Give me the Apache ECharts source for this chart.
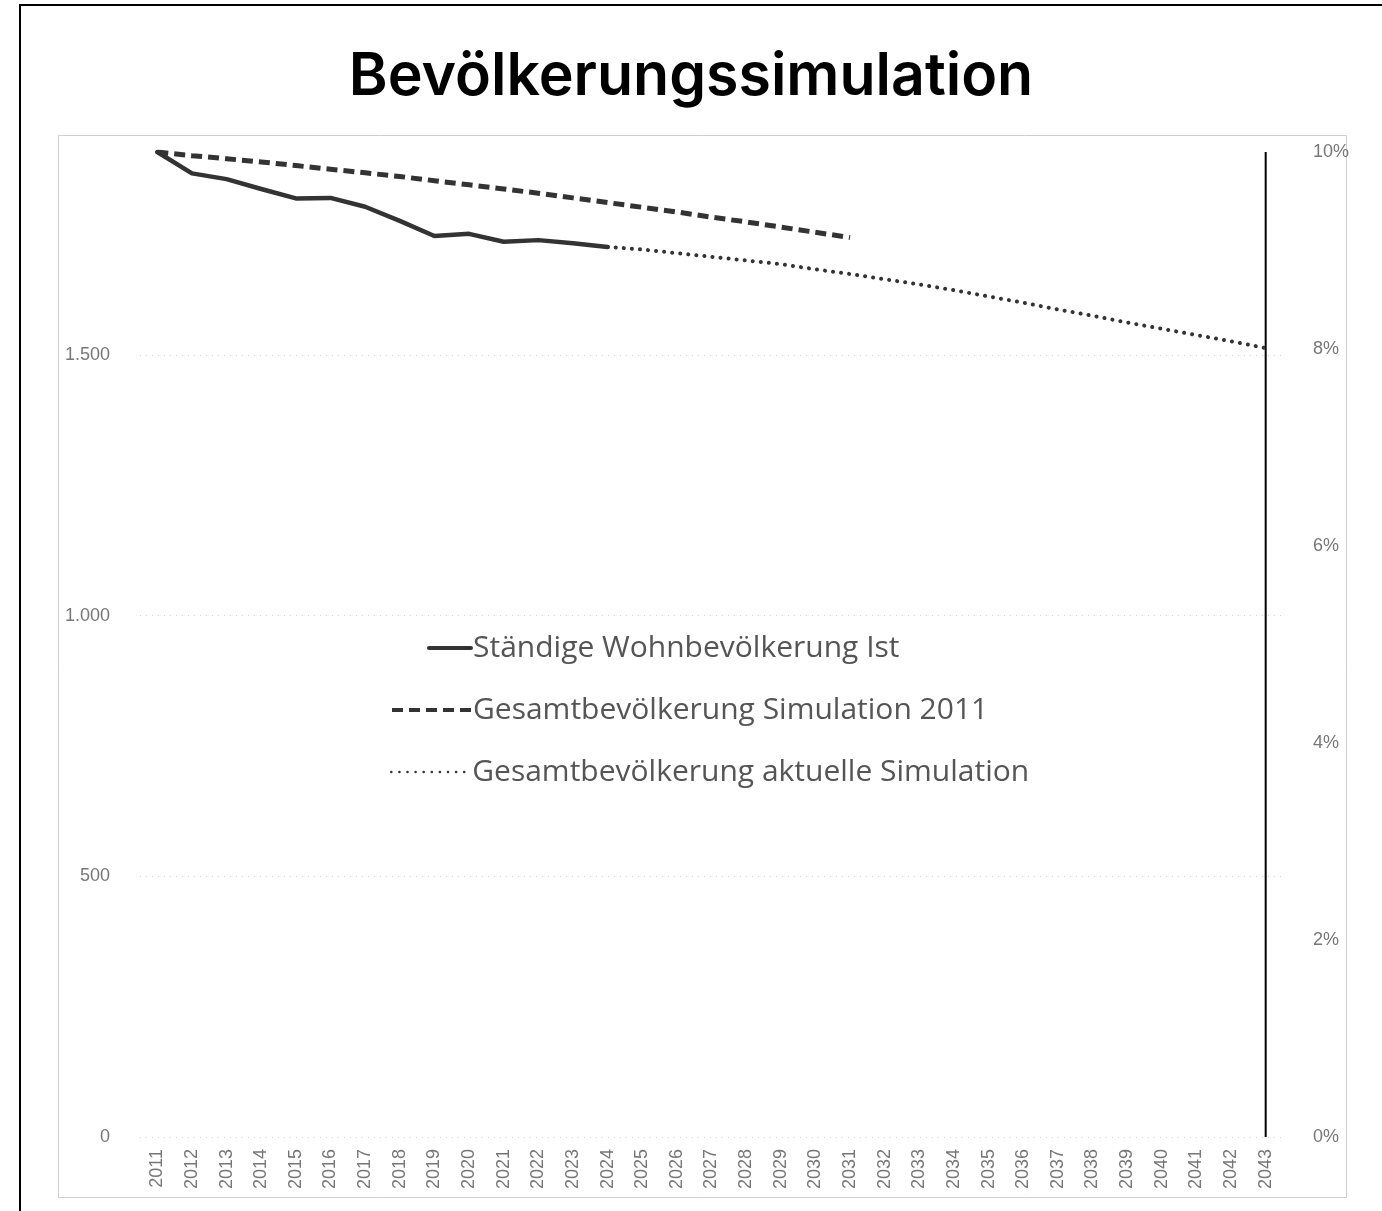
<!DOCTYPE html>
<html>
<head>
<meta charset="utf-8">
<script src="https://cdn.jsdelivr.net/npm/echarts@6/dist/echarts.min.js"></script>
<style>
html,body{margin:0;padding:0;background:#fff;}
#chart{width:1382px;height:1211px;}
</style>
</head>
<body>
<div id="chart"></div>
<script>
const years = ['2011','2012','2013','2014','2015','2016','2017','2018','2019','2020','2021','2022','2023','2024','2025','2026','2027','2028','2029','2030','2031','2032','2033','2034','2035','2036','2037','2038','2039','2040','2041','2042','2043'];
const istValues = [1889,1848,1837,1818,1800,1801,1784,1757,1728,1732,1717,1720,1714,1707];
const sim2011Values = [1889,1882,1876,1870,1863,1856,1849,1842,1834,1826,1818,1810,1801,1792,1783,1774,1764,1755,1745,1735,1725];
const simAktuellYears = ['2024','2025','2026','2027','2028','2029','2030','2031','2032','2033','2034','2035','2036','2037','2038','2039','2040','2041','2042','2043'];
const simAktuellValues = [1707,1702,1695,1688,1681,1674,1664,1655,1645,1635,1624,1612,1600,1587,1575,1562,1550,1538,1526,1513];
const markerYear = '2043';
const markerPct = 10;
const leftTicks = [0, 500, 1000, 1500];
const rightTicks = [0, 2, 4, 6, 8, 10];

const names = ['Ständige Wohnbevölkerung Ist','Gesamtbevölkerung Simulation 2011','Gesamtbevölkerung aktuelle Simulation'];

const istData = years.map((y, i) => i < istValues.length ? istValues[i] : null);
const simData = years.map((y, i) => i < sim2011Values.length ? sim2011Values[i] : null);
const aktData = years.map(y => { const k = simAktuellYears.indexOf(y); return k >= 0 ? simAktuellValues[k] : null; });
const markerData = years.map(y => y === markerYear ? markerPct : null);

const chart = echarts.init(document.getElementById('chart'));
const fmtDE = v => String(v).replace(/\B(?=(\d{3})+(?!\d))/g, '.');
const legendText = {fontFamily: 'Open Sans', fontSize: 30, color: '#555', padding: [0,0,0,-3]};
chart.setOption({
  animation: false,
  backgroundColor: '#fff',
  title: {
    text: 'Bevölkerungssimulation',
    left: 'center', top: 43,
    textStyle: {fontFamily: 'Inter', fontWeight: 600, fontSize: 59, color: '#000'}
  },
  graphic: [
    {type: 'rect', shape: {x: 20, y: 5, width: 1400, height: 1250}, style: {fill: 'none', stroke: '#000', lineWidth: 2}, silent: true},
    {type: 'rect', shape: {x: 58.5, y: 135.5, width: 1288, height: 1062}, style: {fill: 'none', stroke: '#cfcfcf', lineWidth: 1}, silent: true}
  ],
  legend: [
    {
      data: [names[0]], orient: 'vertical', left: 422, top: 628,
      itemWidth: 42, itemHeight: 14, itemGap: 30,
      itemStyle: {opacity: 0}, lineStyle: {width: 4},
      textStyle: legendText
    },
    {
      data: [names[1]], orient: 'vertical', left: 385, top: 690,
      itemWidth: 79, itemHeight: 14,
      itemStyle: {opacity: 0}, lineStyle: {width: 4},
      textStyle: legendText
    },
    {
      data: [names[2]], orient: 'vertical', left: 385, top: 752,
      itemWidth: 79, itemHeight: 14,
      itemStyle: {opacity: 0}, lineStyle: {width: 2.5},
      textStyle: legendText
    }
  ],
  grid: {left: 140, right: 99, top: 152, bottom: 74},
  xAxis: {
    type: 'category', data: years, boundaryGap: true,
    axisLine: {show: false}, axisTick: {show: false},
    axisLabel: {rotate: 90, interval: 0, margin: 12, color: '#777', fontSize: 18, fontFamily: 'Liberation Sans'}
  },
  yAxis: [
    {
      type: 'value', min: 0, max: 'dataMax', interval: 500,
      axisLine: {show: false}, axisTick: {show: false},
      axisLabel: {showMaxLabel: false, color: '#777', fontSize: 18, fontFamily: 'Liberation Sans', margin: 30,
        formatter: v => leftTicks.includes(v) ? fmtDE(v) : ''},
      splitLine: {show: true, showMaxLine: false, lineStyle: {color: '#d6d6d6', type: [1, 5], width: 1}}
    },
    {
      type: 'value', min: 0, max: 10, interval: 2, position: 'right',
      axisLine: {show: false}, axisTick: {show: false},
      axisLabel: {color: '#777', fontSize: 18, fontFamily: 'Liberation Sans', margin: 30,
        formatter: v => rightTicks.includes(v) ? v + '%' : ''},
      splitLine: {show: false}
    }
  ],
  series: [
    {
      name: names[0], type: 'line', data: istData, yAxisIndex: 0, symbol: 'none', connectNulls: false,
      lineStyle: {color: '#333', width: 4.5, type: 'solid', join: 'round', cap: 'round'},
      itemStyle: {color: '#333'}
    },
    {
      name: names[1], type: 'line', data: simData, yAxisIndex: 0, symbol: 'none',
      lineStyle: {color: '#333', width: 5, type: [11, 6]},
      itemStyle: {color: '#333'}
    },
    {
      name: names[2], type: 'line', data: aktData, yAxisIndex: 0, symbol: 'none',
      lineStyle: {color: '#333', width: 4, type: [0.1, 8], cap: 'round'},
      itemStyle: {color: '#333'}
    },
    {
      name: 'marker', type: 'bar', data: markerData, yAxisIndex: 1, barWidth: 2,
      itemStyle: {color: '#000'}, silent: true
    }
  ]
});
</script>
</body>
</html>
